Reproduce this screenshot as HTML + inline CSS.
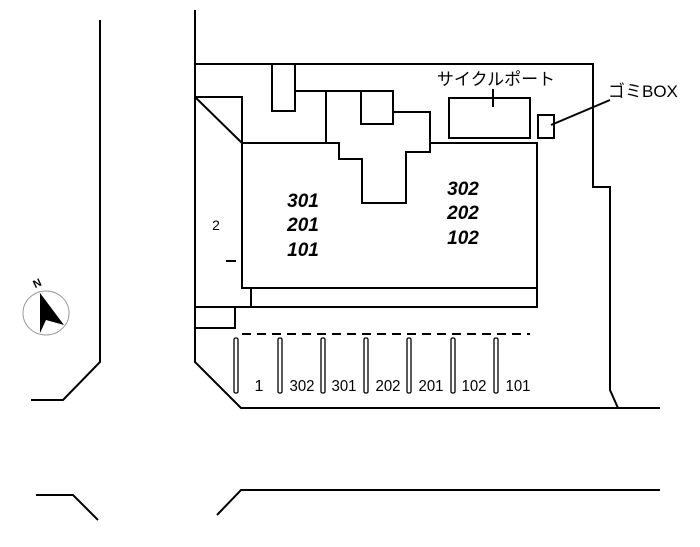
<!DOCTYPE html>
<html><head><meta charset="utf-8"><style>
html,body{margin:0;padding:0;background:#fff}
svg{display:block}
.n{font-family:"Liberation Sans",sans-serif;font-weight:bold;font-style:italic;font-size:19px}
.p{font-family:"Liberation Sans",sans-serif;font-size:16px}
.j{font-family:"Liberation Sans","Noto Sans CJK JP",sans-serif;font-size:17px}
</style></head><body>
<svg width="700" height="547" viewBox="0 0 700 547" xmlns="http://www.w3.org/2000/svg">
<g fill="none" stroke="#000" stroke-width="2">
<polyline points="100,20 100,362 63,400 31,400"/>
<polyline points="36,495 73,495 98,520"/>
<polyline points="217,515 241,490 660,490"/>
<polyline points="195,10 195,362 241,408 660,408"/>
<polyline points="195,64 593,64 593,187 610,187 610,390 618,408"/>
<polyline points="272,64 272,111 295,111 295,64"/>
<line x1="195" y1="97" x2="242" y2="143"/>
<polyline points="195,97 242,97 242,143"/>
<polyline points="295,91 326,91 326,143"/>
<polyline points="326,91 393,91"/>
<rect x="361" y="91" width="32" height="33"/>
<polyline points="393,91 393,112 430,112 430,152 406,152 406,203 362,203 362,159 339,159 339,143 242,143 242,288 537,288 537,143 430,143"/>
<polyline points="251,288 251,307 537,307 537,288"/>
<line x1="195" y1="307" x2="251" y2="307"/>
<polyline points="195,328 235,328 235,307"/>
<rect x="449" y="98" width="81" height="40"/>
<line x1="493" y1="89" x2="493" y2="107"/>
<rect x="538" y="115" width="16" height="23"/>
<line x1="551" y1="125" x2="610" y2="100"/>
<line x1="226" y1="261" x2="236" y2="261"/>
<line x1="242" y1="334" x2="530" y2="334" stroke-dasharray="9,6"/>
</g>
<g fill="none" stroke="#000" stroke-width="1.3">
<rect x="234" y="338" width="4" height="55" rx="1.5"/>
<rect x="278" y="338" width="4" height="55" rx="1.5"/>
<rect x="321" y="338" width="4" height="55" rx="1.5"/>
<rect x="364" y="338" width="4" height="55" rx="1.5"/>
<rect x="407" y="338" width="4" height="55" rx="1.5"/>
<rect x="451" y="338" width="4" height="55" rx="1.5"/>
<rect x="494" y="338" width="4" height="55" rx="1.5"/>
</g>
<g class="p" text-anchor="middle">
<text x="259" y="391">1</text>
<text x="302" y="391" textLength="25" lengthAdjust="spacingAndGlyphs">302</text>
<text x="344" y="391" textLength="25" lengthAdjust="spacingAndGlyphs">301</text>
<text x="388" y="391" textLength="25" lengthAdjust="spacingAndGlyphs">202</text>
<text x="431" y="391" textLength="25" lengthAdjust="spacingAndGlyphs">201</text>
<text x="474" y="391" textLength="25" lengthAdjust="spacingAndGlyphs">102</text>
<text x="518" y="391" textLength="25" lengthAdjust="spacingAndGlyphs">101</text>
<text x="216" y="230" font-size="14">2</text>
</g>
<g class="n" text-anchor="middle">
<text x="303" y="207">301</text>
<text x="303" y="231">201</text>
<text x="303" y="256">101</text>
<text x="463" y="195">302</text>
<text x="463" y="219">202</text>
<text x="463" y="244">102</text>
</g>
<text class="j" x="496" y="85" text-anchor="middle">サイクルポート</text>
<text class="j" x="608" y="97" font-size="16">ゴミBOX</text>
<ellipse cx="46" cy="313" rx="23" ry="22" fill="none" stroke="#999" stroke-width="1"/>
<polygon points="40,293 64,325 46,320 40,333" fill="#000"/>
<text x="37" y="287" font-family="Liberation Sans,sans-serif" font-weight="bold" font-size="11" text-anchor="middle" transform="rotate(-25 37 283)">N</text>
</svg>
</body></html>
